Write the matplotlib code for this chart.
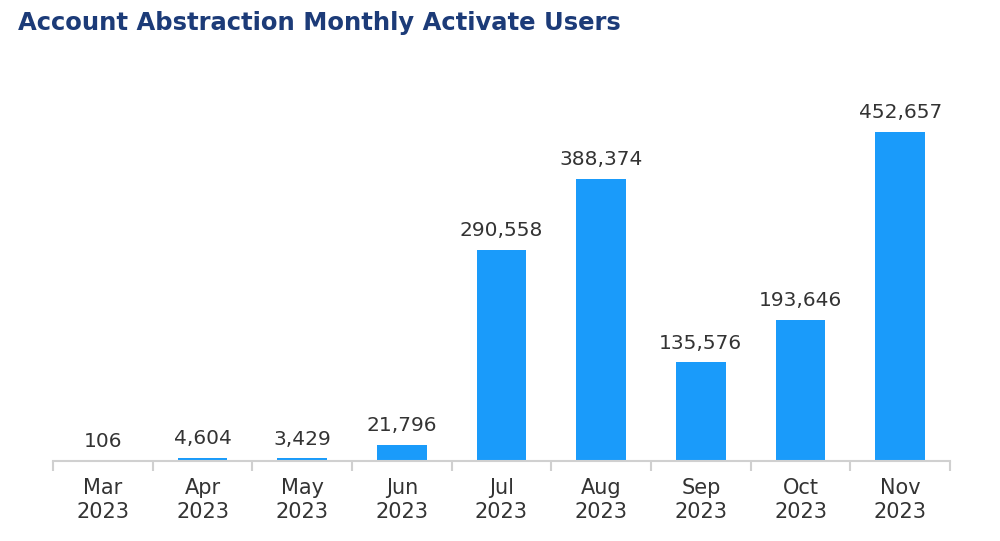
import numpy as np
import matplotlib
matplotlib.use("Agg")
import matplotlib.pyplot as plt

months = ["Mar\n2023", "Apr\n2023", "May\n2023", "Jun\n2023", "Jul\n2023",
          "Aug\n2023", "Sep\n2023", "Oct\n2023", "Nov\n2023"]
users = [106, 4604, 3429, 21796, 290558, 388374, 135576, 193646, 452657]

plt.rcParams['font.family'] = ['DejaVu Sans']

fig = plt.figure(figsize=(10, 5.41), dpi=100)
ax = fig.add_axes([0.053, 0.148, 0.897, 0.704])

x = np.arange(len(months))
ax.bar(x, users, width=0.5, color="#1a9bfa")

for xi, v in zip(x, users):
    ax.annotate(f"{v:,}", (xi, v), xytext=(0, 7), textcoords="offset points",
                ha="center", va="bottom", fontsize=14.5, color="#333333")

ax.set_xlim(-0.5, len(months) - 0.5)
ax.set_ylim(0, 524000)
ax.set_yticks([])
ax.set_xticks(x)
ax.set_xticklabels(months, fontsize=15, color="#333333", linespacing=1.3)
ax.set_xticks(np.arange(-0.5, len(months)), minor=True)
ax.tick_params(axis="x", which="major", length=0, pad=12)
ax.tick_params(axis="x", which="minor", length=7, color="#d0d0d0", width=1.5)
for s in ["top", "left", "right"]:
    ax.spines[s].set_visible(False)
ax.spines["bottom"].set_color("#d0d0d0")
ax.spines["bottom"].set_linewidth(1.5)

fig.text(0.018, 0.958, "Account Abstraction Monthly Activate Users",
         fontsize=17.5, fontweight="bold", color="#1c3b78", ha="left", va="center")

fig.savefig("out.png", dpi=100)
